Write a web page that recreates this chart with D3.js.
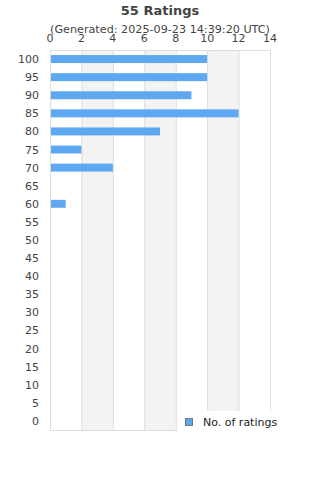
<!DOCTYPE html>
<html>
<head>
<meta charset="utf-8">
<script src="https://cdn.jsdelivr.net/npm/d3@7"></script>
<style>
  body { margin: 0; background: #fff; }
  text { font-family: "DejaVu Sans", sans-serif; }
</style>
</head>
<body>
<script>
// data
const categories = ["100", "95", "90", "85", "80", "75", "70", "65", "60", "55", "50", "45", "40", "35", "30", "25", "20", "15", "10", "5", "0"]
const counts = [10, 10, 9, 12, 7, 2, 4, 0, 1, 0, 0, 0, 0, 0, 0, 0, 0, 0, 0, 0, 0]
const xTicks = [0, 2, 4, 6, 8, 10, 12, 14]
const titleText = "55 Ratings"
const subtitleText = "(Generated: 2025-09-23 14:39:20 UTC)"
const seriesName = "No. of ratings"

// layout
const W = 320, H = 480
const PlotLeft = 50, PlotRight = 270, PlotTop = 50, PlotBottom = 430
const BarColor = "#5ea8f2"
const GridColor = "#dddddd"
const BandColor = "#f3f3f3"
const TextColor = "#444444"

const svg = d3.select("body").append("svg")
    .attr("width", W)
    .attr("height", H)

const x = d3.scaleLinear().domain([0, 14]).range([PlotLeft, PlotRight])
const y = d3.scaleBand().domain(categories).range([PlotTop, PlotBottom]).paddingInner(0.56).paddingOuter(0.28)

// alternating bands
for (let i = 0; i < xTicks.length - 1; i++) {
    if (i % 2 == 1) {
        svg.append("rect")
            .attr("x", x(xTicks[i]))
            .attr("y", PlotTop)
            .attr("width", x(xTicks[i + 1]) - x(xTicks[i]))
            .attr("height", PlotBottom - PlotTop)
            .attr("fill", BandColor)
    }
}

// gridlines
const grid = svg.append("g")
    .attr("transform", `translate(0,${PlotTop})`)
    .call(d3.axisTop(x).tickValues(xTicks).tickSize(-(PlotBottom - PlotTop)).tickFormat(""))
grid.select(".domain").remove()
grid.selectAll("line").attr("stroke", GridColor)

svg.append("line")
    .attr("x1", PlotLeft).attr("x2", PlotRight)
    .attr("y1", PlotTop + 0.5).attr("y2", PlotTop + 0.5)
    .attr("stroke", GridColor)
svg.append("line")
    .attr("x1", PlotLeft).attr("x2", PlotRight)
    .attr("y1", PlotBottom + 0.5).attr("y2", PlotBottom + 0.5)
    .attr("stroke", GridColor)

// bars
svg.append("g").selectAll("rect")
    .data(categories)
    .join("rect")
        .attr("x", x(0) + 1)
        .attr("y", d => y(d))
        .attr("width", (d, i) => Math.max(0, x(counts[i]) - x(0) - 1))
        .attr("height", y.bandwidth())
        .attr("fill", BarColor)

// x tick labels on top
svg.append("g").selectAll("text")
    .data(xTicks)
    .join("text")
        .attr("x", d => x(d))
        .attr("y", 42)
        .attr("text-anchor", "middle")
        .attr("font-size", "11px")
        .attr("fill", TextColor)
        .text(d => d)

// y labels
svg.append("g").selectAll("text")
    .data(categories)
    .join("text")
        .attr("x", 39)
        .attr("y", d => y(d) + y.bandwidth() / 2 + 4)
        .attr("text-anchor", "end")
        .attr("font-size", "11px")
        .attr("fill", TextColor)
        .text(d => d)

// title
svg.append("text")
    .attr("x", 160)
    .attr("y", 15)
    .attr("text-anchor", "middle")
    .attr("font-size", "13px")
    .attr("font-weight", "bold")
    .attr("fill", TextColor)
    .text(titleText)

svg.append("text")
    .attr("x", 160)
    .attr("y", 33)
    .attr("text-anchor", "middle")
    .attr("font-size", "11.2px")
    .attr("fill", TextColor)
    .text(subtitleText)

// legend
svg.append("rect")
    .attr("x", 178).attr("y", 411)
    .attr("width", W - 178).attr("height", 22)
    .attr("fill", "#fff")
svg.append("rect")
    .attr("x", 185.5).attr("y", 418.5)
    .attr("width", 7).attr("height", 7)
    .attr("fill", BarColor)
    .attr("stroke", "#777")
svg.append("text")
    .attr("x", 203)
    .attr("y", 426)
    .attr("font-size", "11px")
    .attr("fill", "#222")
    .text(seriesName)
</script>
</body>
</html>
